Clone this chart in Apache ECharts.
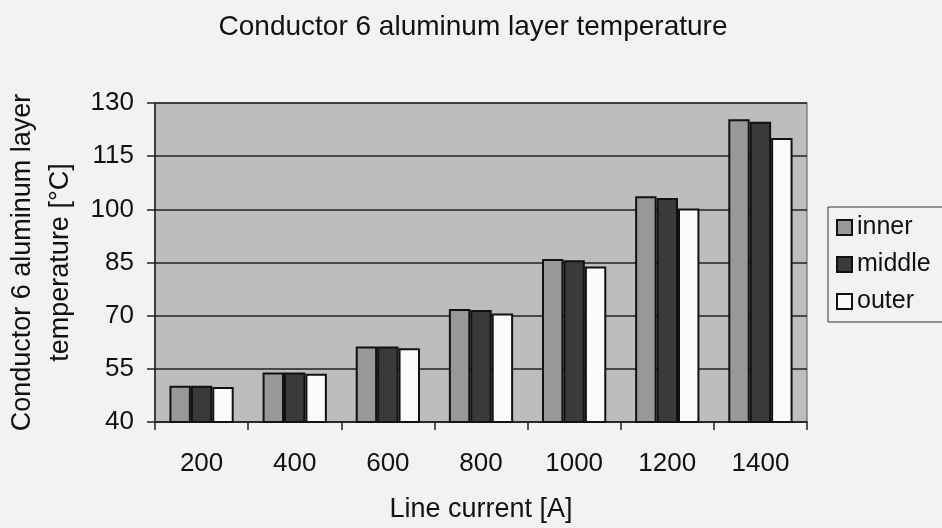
<!DOCTYPE html>
<html>
<head>
<meta charset="utf-8">
<script src="https://cdn.jsdelivr.net/npm/echarts@6/dist/echarts.min.js"></script>
<style>
html,body{margin:0;padding:0;background:#f2f2f0;}
#chart{width:942px;height:528px;}
</style>
</head>
<body>
<div id="chart"></div>
<script>
const categories = ['200', '400', '600', '800', '1000', '1200', '1400'];
const innerValues = [50.2, 54.0, 61.3, 71.9, 86.0, 103.7, 125.4];
const middleValues = [50.2, 54.0, 61.3, 71.6, 85.6, 103.2, 124.7];
const outerValues = [49.9, 53.6, 60.8, 70.6, 83.9, 100.2, 120.1];
const seriesNames = ['inner', 'middle', 'outer'];
const titleText = 'Conductor 6 aluminum layer temperature';
const xName = 'Line current [A]';
const yName = 'Conductor 6 aluminum layer\ntemperature [°C]';

const FONT = 'Liberation Sans, Arial, sans-serif';
const chart = echarts.init(document.getElementById('chart'), null, {renderer: 'canvas'});

const barStyle = (color) => ({color: color, borderColor: '#111', borderWidth: 2});

chart.setOption({
  backgroundColor: '#f2f2f0',
  animation: false,
  title: {
    text: titleText,
    left: 468, top: 8, textAlign: 'center',
    textStyle: {fontFamily: FONT, fontSize: 28, fontWeight: 'normal', color: '#111'}
  },
  grid: {
    left: 155, right: 135, top: 103, bottom: 106,
    containLabel: false,
    outerBoundsMode: 'none',
    show: true, backgroundColor: '#bdbdbb', borderColor: '#555', borderWidth: 1
  },
  legend: {
    orient: 'vertical',
    left: 828, top: 207,
    data: seriesNames,
    itemWidth: 15, itemHeight: 15, itemGap: 12,
    padding: [8, 80, 8, 8],
    borderColor: '#333', borderWidth: 1, backgroundColor: '#f2f2f0',
    icon: 'rect',
    textStyle: {fontFamily: FONT, fontSize: 25, color: '#111', padding: [0, 0, 0, 0]}
  },
  xAxis: {
    type: 'category',
    data: categories,
    name: xName,
    nameLocation: 'middle',
    nameGap: 74,
    nameTextStyle: {fontFamily: FONT, fontSize: 27, color: '#111'},
    axisLine: {lineStyle: {color: '#222', width: 1.5}},
    axisTick: {show: true, alignWithLabel: false, length: 8, lineStyle: {color: '#222', width: 1.5}},
    axisLabel: {fontFamily: FONT, fontSize: 26, color: '#111', margin: 29},
    splitLine: {show: false}
  },
  yAxis: {
    type: 'value',
    min: 40, max: 130, interval: 15,
    name: yName,
    nameLocation: 'middle',
    nameRotate: 90,
    nameGap: 74,
    nameTextStyle: {fontFamily: FONT, fontSize: 27, color: '#111', lineHeight: 38, align: 'center'},
    axisLine: {show: true, lineStyle: {color: '#222', width: 1.5}},
    axisTick: {show: true, length: 8, lineStyle: {color: '#222', width: 1.5}},
    axisLabel: {fontFamily: FONT, fontSize: 26, color: '#111', margin: 21},
    splitLine: {show: true, lineStyle: {color: '#222', width: 1.5}}
  },
  series: [
    {name: seriesNames[0], type: 'bar', data: innerValues, barGap: '0%', barCategoryGap: '31%', itemStyle: barStyle('#989898')},
    {name: seriesNames[1], type: 'bar', data: middleValues, barGap: '0%', barCategoryGap: '31%', itemStyle: barStyle('#3a3a3a')},
    {name: seriesNames[2], type: 'bar', data: outerValues, barGap: '0%', barCategoryGap: '31%', itemStyle: barStyle('#fbfbfb')}
  ]
});
</script>
</body>
</html>
